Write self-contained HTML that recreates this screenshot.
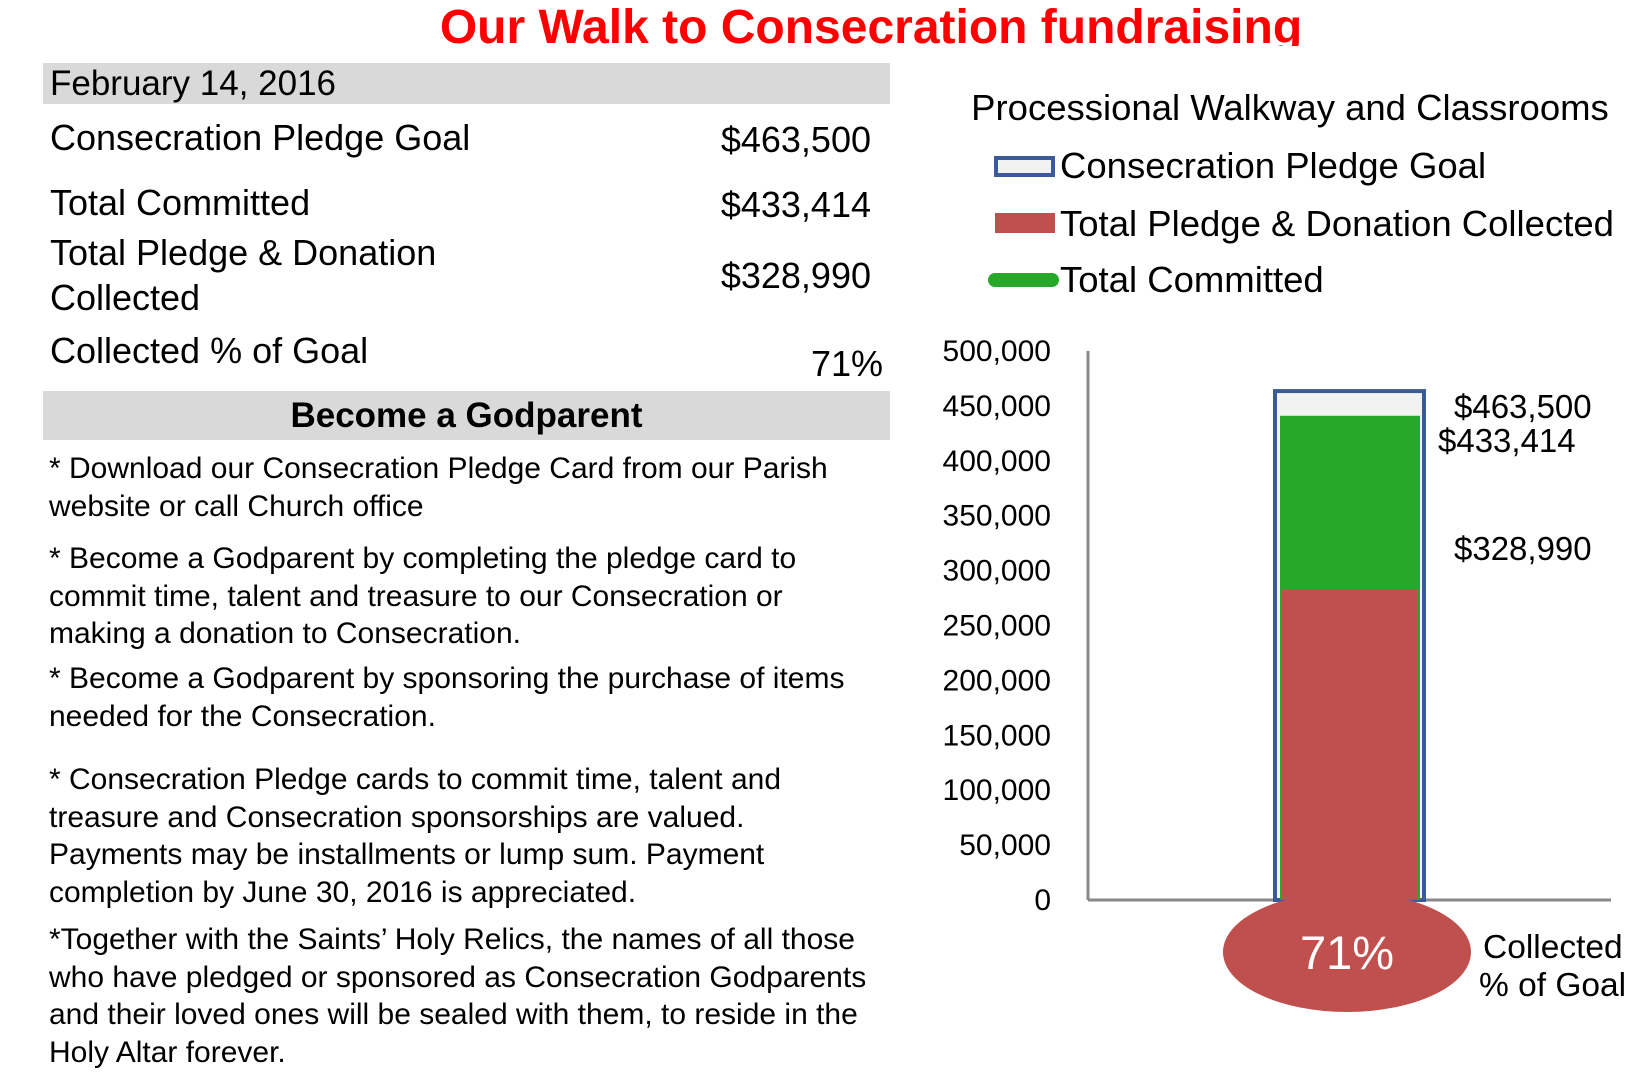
<!DOCTYPE html>
<html><head><meta charset="utf-8"><style>
body{margin:0;width:1649px;height:1088px;overflow:hidden;background:#fff;font-family:"Liberation Sans",Arial,sans-serif;position:relative}
.a{position:absolute;white-space:nowrap;color:#000}
.bar{position:absolute;background:#d9d9d9}
.p{position:absolute;left:49px;font-size:30px;line-height:37.5px;color:#000;white-space:nowrap}
</style></head><body>
<div class="a" style="left:0;width:1742px;text-align:center;top:0;height:46px;overflow:hidden;font-size:48px;font-weight:bold;color:#f00;line-height:56px">Our Walk to Consecration fundraising</div>
<div class="bar" style="left:43px;top:63px;width:847px;height:41px"></div>
<div class="a" style="left:50px;top:63px;font-size:35px;line-height:41px">February 14, 2016</div>
<div class="a" style="left:50px;top:117px;font-size:36px">Consecration Pledge Goal</div>
<div class="a" style="right:778px;top:119px;font-size:36px">$463,500</div>
<div class="a" style="left:50px;top:182px;font-size:36px">Total Committed</div>
<div class="a" style="right:778px;top:184px;font-size:36px">$433,414</div>
<div class="a" style="left:50px;top:230px;font-size:36px;line-height:45px">Total Pledge &amp; Donation<br>Collected</div>
<div class="a" style="right:778px;top:255px;font-size:36px">$328,990</div>
<div class="a" style="left:50px;top:330px;font-size:36px">Collected % of Goal</div>
<div class="a" style="right:766px;top:343px;font-size:36px">71%</div>
<div class="bar" style="left:43px;top:391px;width:847px;height:49px"></div>
<div class="a" style="left:43px;width:847px;text-align:center;top:391px;line-height:49px;font-size:35px;font-weight:bold">Become a Godparent</div>
<div class="p" style="top:450px">* Download our Consecration Pledge Card from our Parish<br>website or call Church office</div>
<div class="p" style="top:540px">* Become a Godparent by completing the pledge card to<br>commit time, talent and treasure to our Consecration or<br>making a donation to Consecration.</div>
<div class="p" style="top:660px">* Become a Godparent by sponsoring the purchase of items<br>needed for the Consecration.</div>
<div class="p" style="top:761px">* Consecration Pledge cards to commit time, talent and<br>treasure and Consecration sponsorships are valued.<br>Payments may be installments or lump sum. Payment<br>completion by June 30, 2016 is appreciated.</div>
<div class="p" style="top:921px">*Together with the Saints’ Holy Relics, the names of all those<br>who have pledged or sponsored as Consecration Godparents<br>and their loved ones will be sealed with them, to reside in the<br>Holy Altar forever.</div>

<svg id="chart" width="1649" height="1088" style="position:absolute;left:0;top:0">
<text x="1290" y="120" font-size="36.5" text-anchor="middle" font-family="Liberation Sans">Processional Walkway and Classrooms</text>
<rect x="996" y="158" width="57" height="17" fill="#f2f2f2" stroke="#3a5a99" stroke-width="4"/>
<text x="1060" y="178" font-size="36.5" font-family="Liberation Sans">Consecration Pledge Goal</text>
<rect x="995" y="213" width="60" height="20" fill="#c0504d"/>
<text x="1060" y="236" font-size="36.5" font-family="Liberation Sans">Total Pledge &amp; Donation Collected</text>
<line x1="995" y1="280" x2="1052" y2="280" stroke="#28a828" stroke-width="14" stroke-linecap="round"/>
<text x="1060" y="292" font-size="36.5" font-family="Liberation Sans">Total Committed</text>
<g id="g"></g>
</svg>
<script>
const yTicks=[0,50000,100000,150000,200000,250000,300000,350000,400000,450000,500000];
const goalValue=[463500];
const committedBarValue=[441000];
const collectedBarValue=[283000];
const valueLabels=["$463,500","$433,414","$328,990"];
const labelValues=[463500,433414,328990];
const percentLabel=["71%"];
const NS="http://www.w3.org/2000/svg";
const g=document.getElementById('g');
const y0=900,y1=351,ymax=500000;
function y(v){return y0-(v/ymax)*(y0-y1);}
function mk(t,a,txt){const e=document.createElementNS(NS,t);for(const k in a)e.setAttribute(k,a[k]);if(txt!=null)e.textContent=txt;g.appendChild(e);return e;}
yTicks.forEach(v=>{const e=mk('text',{x:1051,y:y(v)+10,'font-size':30,'text-anchor':'end','font-family':'Liberation Sans'},v===0?'0':v.toLocaleString('en-US'));

});
let e;
e=mk('line',{x1:1088,y1:y1,x2:1088,y2:y0,stroke:'#888','stroke-width':3});


e=mk('line',{x1:1088,y1:y0,x2:1611,y2:y0,stroke:'#888','stroke-width':3});


e=mk('rect',{x:1275,y:y(goalValue[0]),width:149,height:y0-y(goalValue[0]),fill:'#f2f2f2',stroke:'#3a5a99','stroke-width':4});


e=mk('rect',{x:1280,y:y(committedBarValue[0]),width:140,height:y0-y(committedBarValue[0]),fill:'#28a828'});


e=mk('rect',{x:1282,y:y(collectedBarValue[0]),width:136,height:y0-y(collectedBarValue[0]),fill:'#c0504d'});


e=mk('ellipse',{cx:1347,cy:952,rx:124,ry:60,fill:'#c0504d'});


e=mk('text',{x:1347,y:969,'font-size':47,fill:'#fff','text-anchor':'middle','font-family':'Liberation Sans'},percentLabel[0]);


const lx=[1454,1438,1454],dy=[27,28,21];
labelValues.forEach((v,i)=>{e=mk('text',{x:lx[i],y:y(v)+dy[i],'font-size':33,'font-family':'Liberation Sans'},valueLabels[i]);

});
e=mk('text',{x:1483,y:958,'font-size':33.5,'font-family':'Liberation Sans'},'Collected');


e=mk('text',{x:1479,y:996,'font-size':33.5,'font-family':'Liberation Sans'},'% of Goal');


</script>
</body></html>
